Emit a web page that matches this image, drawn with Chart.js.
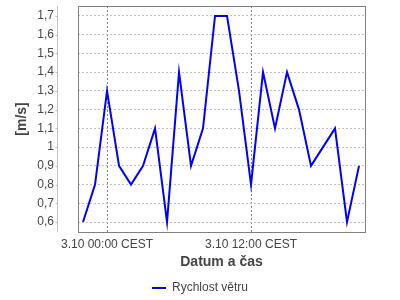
<!DOCTYPE html>
<html>
<head>
<meta charset="utf-8">
<script src="https://cdn.jsdelivr.net/npm/chart.js@4"></script>
<style>
  body { margin: 0; background: #fff; }
  #wrap { width: 400px; height: 300px; }
</style>
</head>
<body>
<div id="wrap"><canvas id="grafico"></canvas></div>
<script>
// hodiny od 3.10 00:00 CEST
const hodiny = [-2, -1, 0, 1, 2, 3, 4, 5, 6, 7, 8, 9, 10, 11, 12, 13, 14, 15, 16, 17, 18, 19, 20, 21];
const rychlost = [0.6, 0.8, 1.3, 0.9, 0.8, 0.9, 1.1, 0.6, 1.4, 0.9, 1.1, 1.7, 1.7, 1.3, 0.8, 1.4, 1.1, 1.4, 1.2, 0.9, 1.0, 1.1, 0.6, 0.9];
const yTicks = [0.6, 0.7, 0.8, 0.9, 1.0, 1.1, 1.2, 1.3, 1.4, 1.5, 1.6, 1.7];
const xTicks = [0, 12];
const xTickLabels = ['3.10 00:00 CEST', '3.10 12:00 CEST'];

const font = 'Liberation Sans, Arial, sans-serif';

// ramecek grafu a oddelena osa y
const ramecek = {
    id: 'ramecek',
    afterDraw(chart) {
        const { ctx, chartArea: a } = chart;
        ctx.save();
        ctx.strokeStyle = '#c0c0c0';
        ctx.lineWidth = 1;
        const ax = Math.round(a.left - 21) + 0.5;
        ctx.beginPath();
        ctx.moveTo(ax, a.top);
        ctx.lineTo(ax, a.bottom);
        chart.scales.y.ticks.forEach(t => {
            const py = Math.round(chart.scales.y.getPixelForValue(t.value)) + 0.5;
            ctx.moveTo(ax - 2, py);
            ctx.lineTo(ax, py);
        });
        ctx.stroke();
        ctx.strokeStyle = '#808080';
        ctx.strokeRect(Math.round(a.left) + 0.5, Math.round(a.top) + 0.5,
            Math.round(a.right - a.left), Math.round(a.bottom - a.top));
        ctx.restore();
    }
};

new Chart(document.getElementById('grafico'), {
    type: 'line',
    data: {
        datasets: [{
            label: 'Rychlost větru',
            data: hodiny.map((h, i) => ({ x: h, y: rychlost[i] })),
            borderColor: '#0000ff',
            backgroundColor: '#0000ff',
            borderWidth: 2,
            pointRadius: 0,
            tension: 0,
            fill: false
        }]
    },
    options: {
        responsive: true,
        maintainAspectRatio: false,
        animation: false,
        layout: { padding: { top: 6, right: 0, left: 0, bottom: -4 } },
        plugins: {
            tooltip: { enabled: false },
            legend: {
                position: 'bottom',
                labels: {
                    usePointStyle: true,
                    pointStyle: 'line',
                    pointStyleWidth: 14,
                    padding: 2,
                    color: '#444',
                    font: { family: font, size: 12 }
                }
            }
        },
        scales: {
            x: {
                type: 'linear',
                min: -2.42,
                max: 21.5,
                afterFit: s => { s.height = 48; },
                afterBuildTicks: s => { s.ticks = xTicks.map(v => ({ value: v })); },
                ticks: {
                    autoSkip: false,
                    maxRotation: 0,
                    padding: 5,
                    color: '#444',
                    font: { family: font, size: 12 },
                    callback: (v) => xTickLabels[xTicks.indexOf(v)]
                },
                grid: { color: '#808080', drawTicks: false },
                border: { display: false, dash: [2, 2] },
                title: {
                    display: true,
                    text: 'Datum a čas',
                    color: '#444',
                    padding: { top: 0, bottom: 9 },
                    font: { family: font, size: 14, weight: 'bold' }
                }
            },
            y: {
                min: 0.547,
                max: 1.753,
                afterFit: s => { s.width = 78; s.paddingTop = 0; s.paddingBottom = 0; },
                afterBuildTicks: s => { s.ticks = yTicks.map(v => ({ value: v })); },
                ticks: {
                    padding: 24,
                    color: '#444',
                    font: { family: font, size: 12 },
                    callback: (v) => String(Math.round(v * 10) / 10).replace('.', ',')
                },
                grid: { color: '#c0c0c0', drawTicks: false },
                border: { display: false, dash: [2, 2] },
                title: {
                    display: true,
                    text: '[m/s]',
                    color: '#444',
                    padding: { top: 14, bottom: 0 },
                    font: { family: font, size: 14, weight: 'bold' }
                }
            },
            // prazdne misto vpravo, aby legenda zustala uprostred
            vpravo: {
                position: 'right',
                afterFit: s => { s.width = 35; s.paddingTop = 0; s.paddingBottom = 0; },
                ticks: { display: false },
                grid: { display: false, drawTicks: false },
                border: { display: false }
            }
        }
    },
    plugins: [ramecek]
});
</script>
</body>
</html>
